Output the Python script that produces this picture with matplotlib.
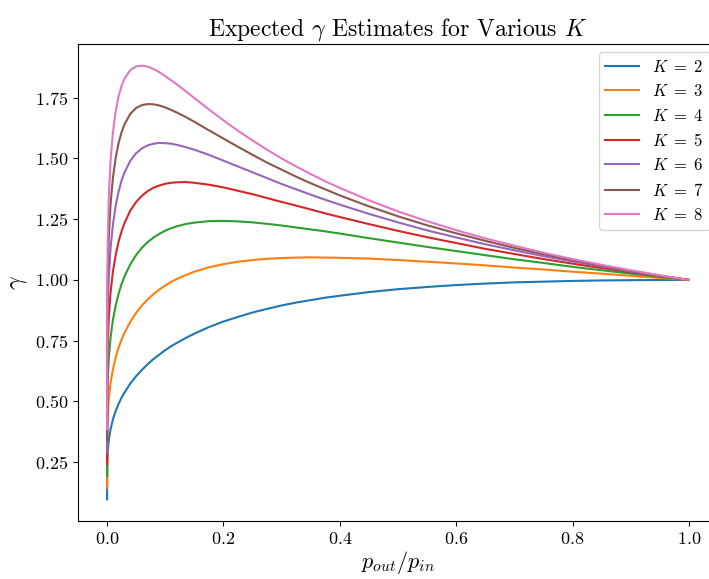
import matplotlib
matplotlib.use("Agg")
import matplotlib.pyplot as plt

plt.rcParams["font.family"] = "serif"
plt.rcParams["font.serif"] = ["cmr10", "DejaVu Serif"]
plt.rcParams["mathtext.fontset"] = "cm"
plt.rcParams["axes.formatter.use_mathtext"] = True

# ratio p_out / p_in
ratio = [0.0, 0.0003, 0.001, 0.003, 0.006, 0.01, 0.015, 0.02, 0.025, 0.03,
         0.04, 0.05, 0.06, 0.07, 0.08, 0.09, 0.1, 0.11, 0.12, 0.135, 0.15,
         0.175, 0.2, 0.225, 0.25, 0.275, 0.3, 0.325, 0.35, 0.375, 0.4, 0.45,
         0.5, 0.55, 0.6, 0.65, 0.7, 0.75, 0.8, 0.85, 0.9, 0.95, 1.0]

gamma_k2 = [0.097, 0.246, 0.289, 0.342, 0.386, 0.426, 0.462, 0.491, 0.516,
            0.537, 0.574, 0.604, 0.630, 0.654, 0.675, 0.693, 0.711, 0.727,
            0.741, 0.761, 0.779, 0.806, 0.829, 0.848, 0.866, 0.881, 0.895,
            0.907, 0.917, 0.927, 0.935, 0.950, 0.962, 0.971, 0.979, 0.985,
            0.990, 0.993, 0.996, 0.998, 0.999, 1.000, 1.0]
gamma_k3 = [0.145, 0.370, 0.433, 0.512, 0.576, 0.632, 0.683, 0.723, 0.755,
            0.783, 0.828, 0.865, 0.895, 0.920, 0.942, 0.961, 0.977, 0.992,
            1.004, 1.020, 1.034, 1.052, 1.065, 1.075, 1.082, 1.087, 1.090,
            1.092, 1.093, 1.092, 1.091, 1.088, 1.082, 1.075, 1.068, 1.060,
            1.051, 1.043, 1.034, 1.026, 1.017, 1.008, 1.0]
gamma_k4 = [0.193, 0.493, 0.577, 0.680, 0.763, 0.835, 0.898, 0.945, 0.984,
            1.015, 1.065, 1.103, 1.133, 1.156, 1.175, 1.190, 1.203, 1.213,
            1.221, 1.230, 1.236, 1.242, 1.243, 1.241, 1.237, 1.231, 1.224,
            1.216, 1.208, 1.200, 1.191, 1.172, 1.154, 1.136, 1.119, 1.102,
            1.085, 1.070, 1.054, 1.040, 1.026, 1.013, 1.0]
gamma_k5 = [0.241, 0.616, 0.720, 0.848, 0.949, 1.034, 1.106, 1.160, 1.201,
            1.235, 1.286, 1.321, 1.347, 1.366, 1.380, 1.389, 1.396, 1.400,
            1.402, 1.403, 1.400, 1.392, 1.381, 1.367, 1.353, 1.337, 1.321,
            1.306, 1.290, 1.274, 1.259, 1.230, 1.202, 1.176, 1.152, 1.128,
            1.107, 1.086, 1.067, 1.049, 1.032, 1.015, 1.0]
gamma_k6 = [0.290, 0.738, 0.863, 1.015, 1.132, 1.228, 1.309, 1.366, 1.410,
            1.443, 1.491, 1.522, 1.542, 1.554, 1.561, 1.564, 1.563, 1.561,
            1.556, 1.547, 1.536, 1.515, 1.491, 1.467, 1.443, 1.419, 1.395,
            1.373, 1.351, 1.330, 1.310, 1.272, 1.237, 1.204, 1.175, 1.147,
            1.122, 1.098, 1.076, 1.055, 1.035, 1.017, 1.0]
gamma_k7 = [0.338, 0.861, 1.006, 1.180, 1.313, 1.420, 1.506, 1.566, 1.609,
            1.641, 1.684, 1.708, 1.720, 1.724, 1.723, 1.718, 1.710, 1.700,
            1.689, 1.671, 1.651, 1.616, 1.582, 1.548, 1.515, 1.483, 1.454,
            1.425, 1.398, 1.373, 1.348, 1.303, 1.262, 1.225, 1.192, 1.161,
            1.132, 1.106, 1.082, 1.059, 1.038, 1.018, 1.0]
gamma_k8 = [0.386, 0.984, 1.149, 1.345, 1.492, 1.607, 1.698, 1.758, 1.800,
            1.829, 1.864, 1.879, 1.882, 1.878, 1.868, 1.855, 1.839, 1.822,
            1.805, 1.777, 1.749, 1.702, 1.657, 1.614, 1.574, 1.536, 1.500,
            1.467, 1.436, 1.406, 1.379, 1.328, 1.282, 1.242, 1.205, 1.171,
            1.141, 1.112, 1.086, 1.062, 1.040, 1.019, 1.0]

k_values = [2, 3, 4, 5, 6, 7, 8]
curves = [gamma_k2, gamma_k3, gamma_k4, gamma_k5, gamma_k6, gamma_k7, gamma_k8]

fig = plt.figure(figsize=(7.09, 5.79), dpi=100)
# axes run past the right edge, the reference is cropped there
ax = fig.add_axes([78 / 709, 58 / 579, 640 / 709, 477 / 579])

for k, g in zip(k_values, curves):
    ax.plot(ratio, g, label=rf"$K\;=\;{k}$")

ax.set_title(r"Expected $\gamma$ Estimates for Various $K$", fontsize=17)
ax.set_xlabel(r"$p_{out}/p_{in}$", fontsize=16, labelpad=2)
ax.set_ylabel(r"$\gamma$", fontsize=17)
ax.tick_params(labelsize=13)
ax.legend(loc="upper right", fontsize=12)

fig.savefig("out.png", dpi=100)
